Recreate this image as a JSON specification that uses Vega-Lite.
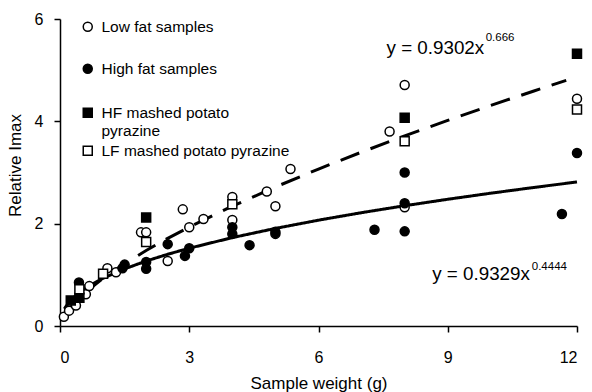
{
  "$schema": "https://vega.github.io/schema/vega-lite/v6.json",
  "width": 517,
  "height": 307,
  "autosize": {"type": "none"},
  "padding": {"left": 60, "top": 19, "right": 15, "bottom": 66},
  "background": "white",
  "config": {
    "font": "Liberation Sans",
    "view": {"stroke": null},
    "axis": {
      "grid": false,
      "domainColor": "black",
      "domainWidth": 1.5,
      "tickColor": "black",
      "tickWidth": 1.5,
      "tickSize": 6,
      "labelColor": "black",
      "labelFont": "Liberation Sans",
      "labelFontSize": 16,
      "titleColor": "black",
      "titleFont": "Liberation Sans",
      "titleFontSize": 17,
      "titleFontWeight": "normal"
    },
    "legend": {
      "labelFont": "Liberation Sans",
      "labelFontSize": 15.5,
      "labelColor": "black",
      "labelLimit": 300
    }
  },
  "datasets": {
    "samples": [
      {"series": "Low fat samples", "weight": 0.09, "imax": 0.18},
      {"series": "Low fat samples", "weight": 0.21, "imax": 0.3},
      {"series": "Low fat samples", "weight": 0.37, "imax": 0.4},
      {"series": "Low fat samples", "weight": 0.6, "imax": 0.62},
      {"series": "Low fat samples", "weight": 0.68, "imax": 0.78},
      {"series": "Low fat samples", "weight": 1.1, "imax": 1.13},
      {"series": "Low fat samples", "weight": 1.3, "imax": 1.05},
      {"series": "Low fat samples", "weight": 1.88, "imax": 1.83},
      {"series": "Low fat samples", "weight": 2.0, "imax": 1.83},
      {"series": "Low fat samples", "weight": 2.5, "imax": 1.27},
      {"series": "Low fat samples", "weight": 2.85, "imax": 2.28},
      {"series": "Low fat samples", "weight": 3.0, "imax": 1.93},
      {"series": "Low fat samples", "weight": 3.33, "imax": 2.09},
      {"series": "Low fat samples", "weight": 4.0, "imax": 2.52},
      {"series": "Low fat samples", "weight": 4.0, "imax": 2.07},
      {"series": "Low fat samples", "weight": 4.8, "imax": 2.63},
      {"series": "Low fat samples", "weight": 5.0, "imax": 2.34},
      {"series": "Low fat samples", "weight": 5.35, "imax": 3.07},
      {"series": "Low fat samples", "weight": 7.65, "imax": 3.8},
      {"series": "Low fat samples", "weight": 8.0, "imax": 4.71},
      {"series": "Low fat samples", "weight": 8.0, "imax": 2.32},
      {"series": "Low fat samples", "weight": 12.0, "imax": 4.44},
      {"series": "High fat samples", "weight": 0.44, "imax": 0.85},
      {"series": "High fat samples", "weight": 1.45, "imax": 1.13},
      {"series": "High fat samples", "weight": 1.5, "imax": 1.2},
      {"series": "High fat samples", "weight": 2.0, "imax": 1.25},
      {"series": "High fat samples", "weight": 2.0, "imax": 1.12},
      {"series": "High fat samples", "weight": 2.5, "imax": 1.6},
      {"series": "High fat samples", "weight": 2.9, "imax": 1.37},
      {"series": "High fat samples", "weight": 3.0, "imax": 1.52},
      {"series": "High fat samples", "weight": 4.0, "imax": 1.93},
      {"series": "High fat samples", "weight": 4.0, "imax": 1.8},
      {"series": "High fat samples", "weight": 4.4, "imax": 1.58},
      {"series": "High fat samples", "weight": 5.0, "imax": 1.84},
      {"series": "High fat samples", "weight": 5.0, "imax": 1.8},
      {"series": "High fat samples", "weight": 7.3, "imax": 1.88},
      {"series": "High fat samples", "weight": 8.0, "imax": 3.0},
      {"series": "High fat samples", "weight": 8.0, "imax": 2.4},
      {"series": "High fat samples", "weight": 8.0, "imax": 1.85},
      {"series": "High fat samples", "weight": 11.65, "imax": 2.19},
      {"series": "High fat samples", "weight": 12.0, "imax": 3.38},
      {"series": "HF mashed potato pyrazine", "weight": 0.25, "imax": 0.5},
      {"series": "HF mashed potato pyrazine", "weight": 0.45, "imax": 0.55},
      {"series": "HF mashed potato pyrazine", "weight": 2.0, "imax": 2.12},
      {"series": "HF mashed potato pyrazine", "weight": 8.0, "imax": 4.07},
      {"series": "HF mashed potato pyrazine", "weight": 12.0, "imax": 5.32},
      {"series": "LF mashed potato pyrazine", "weight": 0.45, "imax": 0.72},
      {"series": "LF mashed potato pyrazine", "weight": 1.0, "imax": 1.02},
      {"series": "LF mashed potato pyrazine", "weight": 2.0, "imax": 1.64},
      {"series": "LF mashed potato pyrazine", "weight": 4.0, "imax": 2.38},
      {"series": "LF mashed potato pyrazine", "weight": 8.0, "imax": 3.61},
      {"series": "LF mashed potato pyrazine", "weight": 12.0, "imax": 4.23}
    ],
    "fits": [
      {"fit": "y = 0.9302x^0.666", "weight": 0.1, "imax": 0.2007},
      {"fit": "y = 0.9302x^0.666", "weight": 0.2, "imax": 0.3185},
      {"fit": "y = 0.9302x^0.666", "weight": 0.3, "imax": 0.4172},
      {"fit": "y = 0.9302x^0.666", "weight": 0.5, "imax": 0.5863},
      {"fit": "y = 0.9302x^0.666", "weight": 0.75, "imax": 0.768},
      {"fit": "y = 0.9302x^0.666", "weight": 1, "imax": 0.9302},
      {"fit": "y = 0.9302x^0.666", "weight": 1.5, "imax": 1.2186},
      {"fit": "y = 0.9302x^0.666", "weight": 2, "imax": 1.4759},
      {"fit": "y = 0.9302x^0.666", "weight": 2.5, "imax": 1.7126},
      {"fit": "y = 0.9302x^0.666", "weight": 3, "imax": 1.9335},
      {"fit": "y = 0.9302x^0.666", "weight": 4, "imax": 2.3418},
      {"fit": "y = 0.9302x^0.666", "weight": 5, "imax": 2.7169},
      {"fit": "y = 0.9302x^0.666", "weight": 6, "imax": 3.0676},
      {"fit": "y = 0.9302x^0.666", "weight": 7, "imax": 3.3992},
      {"fit": "y = 0.9302x^0.666", "weight": 8, "imax": 3.7155},
      {"fit": "y = 0.9302x^0.666", "weight": 9, "imax": 4.0189},
      {"fit": "y = 0.9302x^0.666", "weight": 10, "imax": 4.311},
      {"fit": "y = 0.9302x^0.666", "weight": 11, "imax": 4.5936},
      {"fit": "y = 0.9302x^0.666", "weight": 11.75, "imax": 4.8002},
      {"fit": "y = 0.9329x^0.4444", "weight": 0.1, "imax": 0.3353},
      {"fit": "y = 0.9329x^0.4444", "weight": 0.2, "imax": 0.4563},
      {"fit": "y = 0.9329x^0.4444", "weight": 0.3, "imax": 0.5463},
      {"fit": "y = 0.9329x^0.4444", "weight": 0.5, "imax": 0.6856},
      {"fit": "y = 0.9329x^0.4444", "weight": 0.75, "imax": 0.8209},
      {"fit": "y = 0.9329x^0.4444", "weight": 1, "imax": 0.9329},
      {"fit": "y = 0.9329x^0.4444", "weight": 1.5, "imax": 1.1171},
      {"fit": "y = 0.9329x^0.4444", "weight": 2, "imax": 1.2694},
      {"fit": "y = 0.9329x^0.4444", "weight": 2.5, "imax": 1.4018},
      {"fit": "y = 0.9329x^0.4444", "weight": 3, "imax": 1.5201},
      {"fit": "y = 0.9329x^0.4444", "weight": 4, "imax": 1.7275},
      {"fit": "y = 0.9329x^0.4444", "weight": 5, "imax": 1.9075},
      {"fit": "y = 0.9329x^0.4444", "weight": 6, "imax": 2.0685},
      {"fit": "y = 0.9329x^0.4444", "weight": 7, "imax": 2.2152},
      {"fit": "y = 0.9329x^0.4444", "weight": 8, "imax": 2.3505},
      {"fit": "y = 0.9329x^0.4444", "weight": 9, "imax": 2.4769},
      {"fit": "y = 0.9329x^0.4444", "weight": 10, "imax": 2.5956},
      {"fit": "y = 0.9329x^0.4444", "weight": 11, "imax": 2.7078},
      {"fit": "y = 0.9329x^0.4444", "weight": 12, "imax": 2.815}
    ],
    "equations": [
      {"part": "base", "weight": 7.58, "imax": 5.43, "label": "y = 0.9302x"},
      {"part": "exponent", "weight": 9.88, "imax": 5.62, "label": "0.666"},
      {"part": "base", "weight": 8.64, "imax": 1.02, "label": "y = 0.9329x"},
      {"part": "exponent", "weight": 10.95, "imax": 1.15, "label": "0.4444"}
    ]
  },
  "layer": [
    {
      "data": {"name": "fits"},
      "mark": {"type": "line", "color": "black", "strokeWidth": 3, "strokeCap": "butt"},
      "encoding": {
        "x": {
          "field": "weight", "type": "quantitative",
          "scale": {"domain": [0, 12], "nice": false},
          "axis": {"values": [0, 3, 6, 9, 12], "title": "Sample weight (g)", "labelPadding": 17, "titlePadding": 10}
        },
        "y": {
          "field": "imax", "type": "quantitative",
          "scale": {"domain": [0, 6], "nice": false},
          "axis": {"values": [0, 2, 4, 6], "title": "Relative Imax", "labelPadding": 11, "titlePadding": 10, "titleY": 146}
        },
        "strokeDash": {
          "field": "fit", "type": "nominal",
          "scale": {"domain": ["y = 0.9302x^0.666", "y = 0.9329x^0.4444"], "range": [[20, 12], [1, 0]]},
          "legend": null
        }
      }
    },
    {
      "data": {"name": "samples"},
      "transform": [{"filter": "indexof(['Low fat samples', 'High fat samples'], datum.series) >= 0"}],
      "mark": {"type": "point", "shape": "circle", "filled": true, "size": 81, "stroke": "black", "strokeWidth": 1.5, "opacity": 1},
      "encoding": {
        "x": {"field": "weight", "type": "quantitative"},
        "y": {"field": "imax", "type": "quantitative"},
        "fill": {
          "field": "series", "type": "nominal",
          "scale": {"domain": ["Low fat samples", "High fat samples"], "range": ["white", "black"]},
          "legend": {
            "title": null, "orient": "none", "legendX": 20, "legendY": 0, "padding": 0,
            "symbolType": "circle", "symbolSize": 81, "symbolStrokeColor": "black", "symbolStrokeWidth": 1.5,
            "symbolOpacity": 1, "labelOffset": 6, "rowPadding": 25, "labelBaseline": "alphabetic",
            "encode": {"labels": {"update": {"dy": {"value": 5.5}}}}
          }
        }
      }
    },
    {
      "data": {"name": "samples"},
      "transform": [{"filter": "indexof(['HF mashed potato pyrazine', 'LF mashed potato pyrazine'], datum.series) >= 0"}],
      "mark": {"type": "point", "shape": "square", "filled": true, "size": 81, "stroke": "black", "strokeWidth": 1.5, "opacity": 1},
      "encoding": {
        "x": {"field": "weight", "type": "quantitative"},
        "y": {"field": "imax", "type": "quantitative"},
        "fill": {
          "field": "series", "type": "nominal",
          "scale": {"domain": ["HF mashed potato pyrazine", "LF mashed potato pyrazine"], "range": ["black", "white"]},
          "legend": {
            "title": null, "orient": "none", "legendX": 20, "legendY": 86, "padding": 0,
            "symbolType": "square", "symbolSize": 81, "symbolStrokeColor": "black", "symbolStrokeWidth": 1.5,
            "symbolOpacity": 1, "labelOffset": 6, "rowPadding": 3, "labelBaseline": "alphabetic",
            "labelExpr": "datum.label == 'HF mashed potato pyrazine' ? ['HF mashed potato', 'pyrazine'] : datum.label",
            "encode": {"labels": {"update": {"dy": {"value": 5.5}}}}
          }
        }
      }
    },
    {
      "data": {"name": "equations"},
      "transform": [{"filter": "datum.part == 'base'"}],
      "mark": {"type": "text", "align": "left", "baseline": "middle", "fontSize": 18.8, "color": "black"},
      "encoding": {
        "x": {"field": "weight", "type": "quantitative"},
        "y": {"field": "imax", "type": "quantitative"},
        "text": {"field": "label"}
      }
    },
    {
      "data": {"name": "equations"},
      "transform": [{"filter": "datum.part == 'exponent'"}],
      "mark": {"type": "text", "align": "left", "baseline": "middle", "fontSize": 11.5, "color": "black"},
      "encoding": {
        "x": {"field": "weight", "type": "quantitative"},
        "y": {"field": "imax", "type": "quantitative"},
        "text": {"field": "label"}
      }
    }
  ],
  "resolve": {"scale": {"fill": "independent"}, "legend": {"fill": "independent"}}
}
